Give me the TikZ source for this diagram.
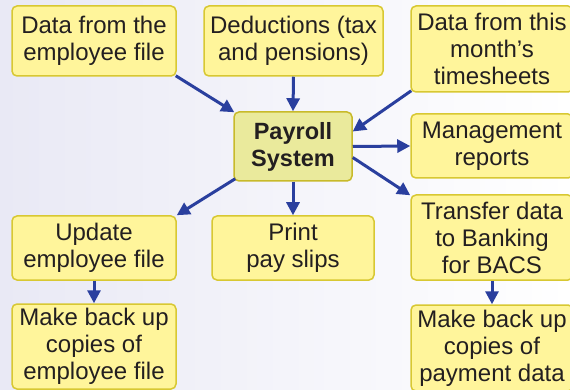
\documentclass[tikz,border=0pt]{standalone}
\usepackage{fontspec}
\setmainfont{Liberation Sans}
\usetikzlibrary{arrows.meta,calc}

\definecolor{bgleft}{HTML}{E9E9F5}
\definecolor{boxfill}{HTML}{FFF59B}
\definecolor{boxline}{HTML}{D8C832}
\definecolor{hubfill}{HTML}{EAEA9C}
\definecolor{hubline}{HTML}{C8BA2A}
\definecolor{flow}{HTML}{2A3F9E}
\definecolor{ink}{HTML}{231F20}

\tikzset{
  stepbox/.style={draw=boxline, fill=boxfill, line width=1.5pt,
    rounded corners=5pt, align=center, inner sep=0pt,
    text=ink, font=\fontsize{24}{27}\selectfont},
  hubbox/.style={stepbox, draw=hubline, fill=hubfill,
    font=\fontsize{23.5}{27}\selectfont\bfseries},
  flowline/.style={draw=flow, line width=3pt,
    -{Triangle[length=13pt,width=13pt]}}
}

\begin{document}
\begin{tikzpicture}[x=1pt,y=-1pt]
  \useasboundingbox (0,0) rectangle (570,390);
  \clip (0,0) rectangle (570,390);
  \shade[left color=bgleft, right color=white] (0,0) rectangle (570,390);

  % inputs
  \node[stepbox, minimum width=164pt, minimum height=70pt] (emp) at (94,41)
    {Data from the\\employee file};
  \node[stepbox, minimum width=179pt, minimum height=70pt] (ded) at (293.5,41)
    {Deductions (tax\\and pensions)};
  \node[stepbox, minimum width=162pt, minimum height=86pt] (ts) at (492,49)
    {Data from this\\month’s\\timesheets};

  % central process
  \node[hubbox, minimum width=118pt, minimum height=69pt] (pay) at (293,146.5)
    {Payroll\\System};

  % outputs
  \node[stepbox, minimum width=162pt, minimum height=64pt] (mgt) at (492,146)
    {Management\\reports};
  \node[stepbox, minimum width=162pt, minimum height=85pt] (bank) at (492,237.5)
    {Transfer data\\to Banking\\for BACS};
  \node[stepbox, minimum width=162pt, minimum height=86pt] (bkpay) at (492,348)
    {Make back up\\copies of\\payment data};
  \node[stepbox, minimum width=164pt, minimum height=64pt] (upd) at (94,248)
    {Update\\employee file};
  \node[stepbox, minimum width=162pt, minimum height=64pt] (slip) at (293,248)
    {Print\\pay slips};
  \node[stepbox, minimum width=164pt, minimum height=85pt] (bkemp) at (94,346.5)
    {Make back up\\copies of\\employee file};

  % data flows
  \draw[flowline] ($(emp.south east)+(-1,-1)$) -- ($(pay.north west)+(1,1)$);
  \draw[flowline] (ded.south) -- (pay.north);
  \draw[flowline] ($(ts.south west)+(1,-2)$) -- ($(pay.east)+(0,-15)$);
  \draw[flowline] (pay.east) -- (mgt.west);
  \draw[flowline] ($(pay.east)+(0,11)$) -- ($(bank.north west)+(0,1)$);
  \draw[flowline] ($(pay.south west)+(2,-3)$) -- (upd.north east);
  \draw[flowline] (pay.south) -- (slip.north);
  \draw[flowline] (upd.south) -- (bkemp.north);
  \draw[flowline] (bank.south) -- (bkpay.north);
\end{tikzpicture}
\end{document}
